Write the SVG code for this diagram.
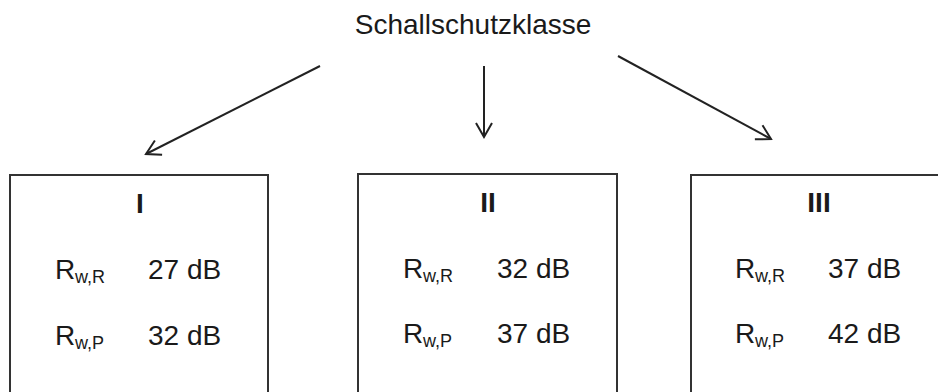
<svg xmlns="http://www.w3.org/2000/svg" width="938" height="392" viewBox="0 0 938 392">
<style>
text{font-family:"Liberation Sans",Arial,sans-serif;fill:#1a1a1a}
.t{font-size:28px}
.h{font-size:28px;font-weight:bold;text-anchor:middle}
.s{font-size:18px}
.box{fill:none;stroke:#333;stroke-width:2}
.c{fill:none;stroke:#222;stroke-width:2}
</style>
<defs>
<marker id="ah" markerUnits="userSpaceOnUse" markerWidth="20" markerHeight="20" viewBox="-16 -10 20 20" refX="0" refY="0" orient="auto">
<path d="M-14,-8 L0,0 L-14,8" fill="none" stroke="#222" stroke-width="2"/>
</marker>
</defs>
<rect width="938" height="392" fill="#fff"/>
<g id="title"><text class="t" x="473" y="34" text-anchor="middle">Schallschutzklasse</text></g>
<g id="connectors">
<line class="c" x1="320" y1="66" x2="146" y2="154" marker-end="url(#ah)"/>
<line class="c" x1="484" y1="66" x2="484" y2="137" marker-end="url(#ah)"/>
<line class="c" x1="618" y1="56" x2="771" y2="139" marker-end="url(#ah)"/>
</g>
<g id="box1">
<rect class="box" x="10" y="175" width="258" height="240"/>
<text class="h" x="140" y="213">I</text>
<text class="t" x="55" y="279">R</text><text class="s" x="75" y="283">w,R</text><text class="t" x="148" y="279">27 dB</text>
<text class="t" x="55" y="345">R</text><text class="s" x="75" y="349">w,P</text><text class="t" x="148" y="345">32 dB</text>
</g>
<g id="box2">
<rect class="box" x="358" y="174" width="259" height="240"/>
<text class="h" x="488" y="212">II</text>
<text class="t" x="403" y="278">R</text><text class="s" x="423" y="282">w,R</text><text class="t" x="497" y="278">32 dB</text>
<text class="t" x="403" y="343">R</text><text class="s" x="423" y="347">w,P</text><text class="t" x="497" y="343">37 dB</text>
</g>
<g id="box3">
<rect class="box" x="691" y="175" width="258" height="240"/>
<text class="h" x="819" y="212">III</text>
<text class="t" x="735" y="278">R</text><text class="s" x="755" y="282">w,R</text><text class="t" x="828" y="278">37 dB</text>
<text class="t" x="735" y="343">R</text><text class="s" x="755" y="347">w,P</text><text class="t" x="828" y="343">42 dB</text>
</g>
</svg>
